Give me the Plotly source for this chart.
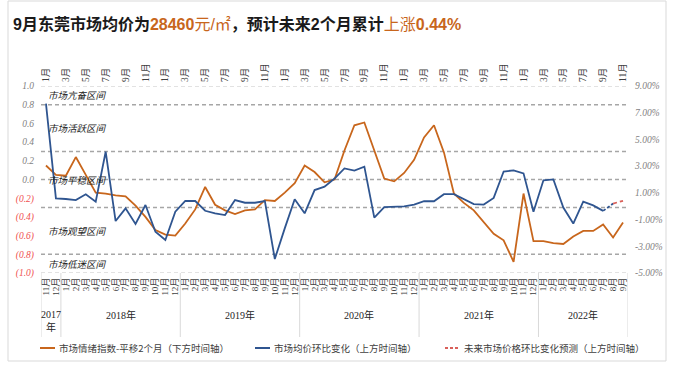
import plotly.graph_objects as go

# ---------------- data ----------------
def month_range(y, m, n):
    out = []
    for _ in range(n):
        out.append((y, m))
        m += 1
        if m > 12:
            m = 1
            y += 1
    return out

bottom_months = month_range(2017, 11, 59)   # lower time axis (sentiment index, shifted 2 months)
top_months = month_range(2018, 1, 59)       # upper time axis (price MoM change)
bottom_cats = [f"{y}-{m:02d}" for y, m in bottom_months]
top_cats = [f"{y}-{m:02d}" for y, m in top_months]

sentiment_index = [
    0.15, 0.05, 0.04, 0.24, 0.05, -0.14, -0.15, -0.17, -0.18, -0.28,
    -0.40, -0.54, -0.59, -0.60, -0.47, -0.32, -0.08, -0.27, -0.33, -0.37,
    -0.33, -0.32, -0.22, -0.23, -0.14, -0.04, 0.15, 0.08, -0.03, 0.00,
    0.31, 0.58, 0.61, 0.30, 0.01, -0.02, 0.07, 0.21, 0.45, 0.58,
    0.29, -0.15, -0.25, -0.33, -0.45, -0.58, -0.65, -0.88, -0.15, -0.66,
    -0.66, -0.68, -0.69, -0.61, -0.55, -0.55, -0.48, -0.62, -0.46,
]

price_mom = [
    7.68, 0.59, 0.54, 0.46, 0.89, 0.34, 4.08, -1.11, -0.16, -1.33,
    0.09, -1.91, -2.53, -0.41, 0.39, 0.39, -0.34, -0.53, -0.66, 0.46,
    0.26, 0.26, 0.39, -3.95, -1.66, 0.52, -0.53, 1.21, 1.46, 2.07,
    2.83, 2.66, 2.96, -0.86, -0.06, -0.04, -0.01, 0.12, 0.37, 0.37,
    0.90, 0.90, 0.52, 0.16, 0.12, 0.62, 2.60, 2.68, 2.46, -0.41,
    1.94, 2.01, -0.10, -1.30, 0.34, 0.06, -0.35,
]

forecast_cats = ["2022-09", "2022-10", "2022-11"]
forecast_vals = [-0.35, 0.20, 0.40]

left_ticks = [1.0, 0.8, 0.6, 0.4, 0.2, 0.0, -0.2, -0.4, -0.6, -0.8, -1.0]
right_ticks = [9, 7, 5, 3, 1, -1, -3, -5]

zone_bounds = [1.0, 0.8, 0.3, -0.3, -0.8, -1.0]
zone_lines = [0.8, 0.3, 0.0, -0.3, -0.8]
zone_names = ["市场亢奋区间", "市场活跃区间", "市场平稳区间", "市场观望区间", "市场低迷区间"]

legend_names = ["市场情绪指数-平移2个月（下方时间轴）", "市场均价环比变化（上方时间轴）", "未来市场价格环比变化预测（上方时间轴）"]

# ---------------- style ----------------
ORANGE = "#C8661C"
BLUE = "#2F5590"
RED = "#D9605A"
GRID = "#A6A6A6"
LIGHT = "#D9D9D9"
TXT = "#404040"
SERIF = "Liberation Serif, Noto Sans CJK SC"
CJK = "Noto Sans CJK SC"

W, H = 675, 367
L, R, T, B = 41, 47, 86, 94
PW, PH = W - L - R, H - T - B

def px(x):
    return (x - L) / PW

def py(y):
    return (T + PH - y) / PH

fig = go.Figure()

fig.add_trace(go.Scatter(x=bottom_cats, y=sentiment_index, mode="lines",
                         line=dict(color=ORANGE, width=1.8), xaxis="x", yaxis="y",
                         name=legend_names[0]))
fig.add_trace(go.Scatter(x=top_cats[:len(price_mom)], y=price_mom, mode="lines",
                         line=dict(color=BLUE, width=1.8), xaxis="x2", yaxis="y2",
                         name=legend_names[1]))
fig.add_trace(go.Scatter(x=forecast_cats[:2], y=forecast_vals[:2], mode="lines",
                         line=dict(color=BLUE, width=1.8, dash="3px,2px"), xaxis="x2", yaxis="y2",
                         showlegend=False))
fig.add_trace(go.Scatter(x=forecast_cats[1:], y=forecast_vals[1:], mode="lines",
                         line=dict(color=RED, width=1.8, dash="4px,3px"), xaxis="x2", yaxis="y2",
                         name=legend_names[2]))

def ltxt(v):
    if v < -1e-9:
        return f"<span style='color:#F05050'><i>({abs(v):.1f})</i></span>"
    return f"<i>{v:.1f}</i>"

fig.update_layout(
    width=W, height=H, margin=dict(l=L, r=R, t=T, b=B, autoexpand=False),
    paper_bgcolor="white", plot_bgcolor="white", showlegend=False,
    xaxis=dict(type="category", categoryorder="array", categoryarray=bottom_cats,
               range=[-0.5, len(bottom_cats) - 0.5], automargin=False,
               tickmode="array", tickvals=bottom_cats, ticktext=[f"{m}月" for _, m in bottom_months],
               tickangle=-90, tickfont=dict(size=9, family=SERIF, color=TXT),
               showgrid=False, zeroline=False, showline=False, ticks="", ticklabelstandoff=2),
    xaxis2=dict(type="category", categoryorder="array", categoryarray=top_cats,
                overlaying="x", side="top", anchor="y", automargin=False,
                range=[-0.5, len(top_cats) - 0.5],
                tickmode="array", tickvals=[c for c, (_, m) in zip(top_cats, top_months) if m % 2 == 1],
                ticktext=[f"{m}月" for _, m in top_months if m % 2 == 1],
                tickangle=-90, tickfont=dict(size=9.5, family=SERIF, color=TXT),
                showgrid=False, zeroline=False, showline=False, ticks="", ticklabelstandoff=3),
    yaxis=dict(range=[-1, 1], tickmode="array", tickvals=left_ticks, ticktext=[ltxt(v) for v in left_ticks],
               tickfont=dict(size=9.5, family=SERIF, color="#7F7F7F"), automargin=False,
               showgrid=False, zeroline=False, showline=False, ticks="", ticklabelstandoff=6),
    yaxis2=dict(range=[-5, 9], overlaying="y", side="right", anchor="x", automargin=False,
                tickmode="array", tickvals=right_ticks, ticktext=[f"<i>{v:.2f}%</i>" for v in right_ticks],
                tickfont=dict(size=9.5, family=SERIF, color="#7F7F7F"),
                showgrid=False, zeroline=False, showline=False, ticks="", ticklabelstandoff=6),
)

shapes = []
# chart border
shapes.append(dict(type="rect", xref="paper", yref="paper", x0=px(8), x1=px(666), y0=py(361), y1=py(1),
                   line=dict(color=LIGHT, width=1), layer="below"))
# top / bottom plot frame lines
for v in (zone_bounds[0], zone_bounds[-1]):
    shapes.append(dict(type="line", xref="paper", yref="y", x0=0, x1=1, y0=v, y1=v,
                       line=dict(color=LIGHT, width=1.5, dash="4px,3px"), layer="below"))
# zone boundaries
for v in zone_lines:
    shapes.append(dict(type="line", xref="paper", yref="y", x0=0, x1=1, y0=v, y1=v,
                       line=dict(color=GRID, width=1.5, dash="4px,3px"), layer="below"))
# year separators on bottom axis
years = []
for i, (y, m) in enumerate(bottom_months):
    if not years or years[-1][0] != y:
        years.append([y, i, i])
    else:
        years[-1][2] = i
bounds = [g[1] - 0.5 for g in years] + [years[-1][2] + 0.5]
for b in bounds:
    shapes.append(dict(type="line", xref="x", yref="paper", x0=b, x1=b, y0=0, y1=py(337),
                       line=dict(color=LIGHT, width=1)))
# legend samples
leg_y = py(348)
leg_x = [(40, 55), (255, 270), (445, 460)]
leg_style = [dict(color=ORANGE, width=2), dict(color=BLUE, width=2), dict(color=RED, width=2, dash="3px,2px")]
for (a, b), st in zip(leg_x, leg_style):
    shapes.append(dict(type="line", xref="paper", yref="paper", x0=px(a), x1=px(b), y0=leg_y, y1=leg_y, line=st))
fig.update_layout(shapes=shapes)

ann = []
# title
title = ("<b>9月东莞市场均价为</b>"
         f"<span style='color:{ORANGE}'><b>28460</b>元/㎡</span>"
         "<b>，预计未来2个月累计</b>"
         f"<span style='color:{ORANGE}'>上涨<b>0.44%</b></span>")
ann.append(dict(text=title, xref="paper", yref="paper", x=px(11), y=py(24), xanchor="left", yanchor="middle",
                showarrow=False, font=dict(size=16, family="Arial, Noto Sans CJK SC", color="#1A1A1A")))
# zone labels
for name, hi, lo in zip(zone_names, zone_bounds[:-1], zone_bounds[1:]):
    ann.append(dict(text=f"<i>{name}</i>", xref="paper", yref="y", x=px(46), y=(hi + lo) / 2,
                    xanchor="left", yanchor="middle", showarrow=False,
                    font=dict(size=9.5, family=CJK, color="#1A1A1A")))
# year labels
for y, a, b in years:
    label = f"{y}年" if b - a >= 2 else f"{y}<br>年"
    ann.append(dict(text=label, xref="x", yref="paper", x=(a + b) / 2, y=py(307), xanchor="center", yanchor="top",
                    showarrow=False, font=dict(size=10, family=SERIF, color="#262626")))
# legend texts
for (a, b), name in zip(leg_x, legend_names):
    ann.append(dict(text=name, xref="paper", yref="paper", x=px(b + 2), y=leg_y, xanchor="left", yanchor="middle",
                    showarrow=False, font=dict(size=9.5, family=CJK, color=TXT)))
fig.update_layout(annotations=ann)

fig.write_html("out.html", config={"displayModeBar": False},
               post_script="document.body.style.margin='0px';")
